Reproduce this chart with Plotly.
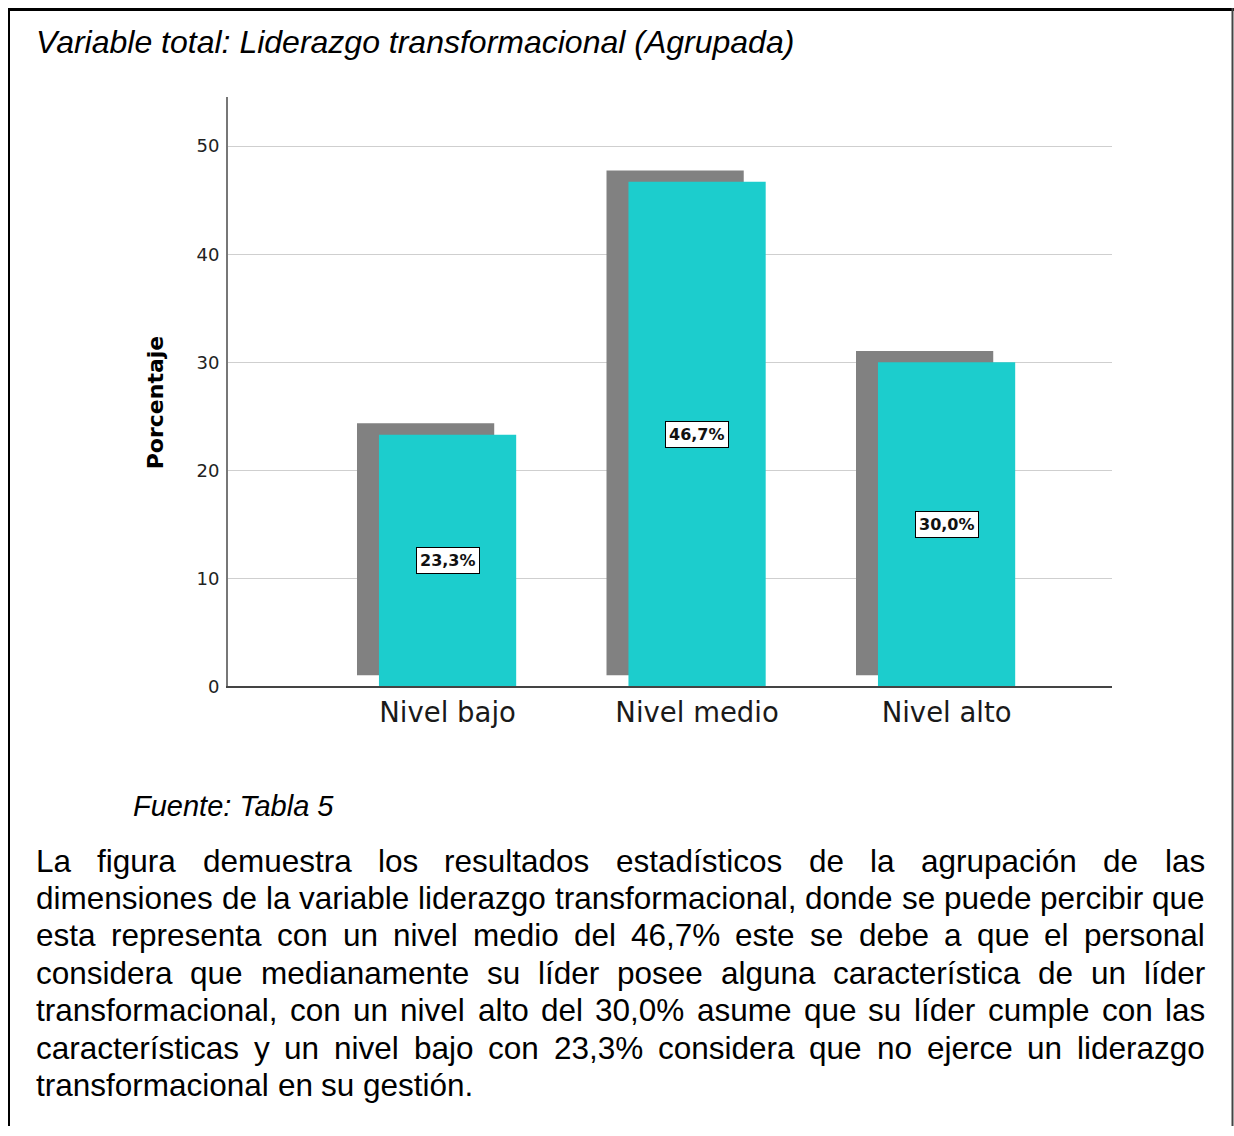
import plotly.graph_objects as go

# ---------------- data ----------------
categories = ["Nivel bajo", "Nivel medio", "Nivel alto"]
percentages = [23.3, 46.7, 30.0]
value_labels = ["23,3%", "46,7%", "30,0%"]
y_ticks = [0, 10, 20, 30, 40, 50]
y_axis_title = "Porcentaje"

title_text = "Variable total: Liderazgo transformacional (Agrupada)"
source_text = "Fuente: Tabla 5"
paragraph_lines = [
    "La figura demuestra los resultados estadísticos de la agrupación de las",
    "dimensiones de la variable liderazgo transformacional, donde se puede percibir que",
    "esta representa con un nivel medio del 46,7% este se debe a que el personal",
    "considera que medianamente su líder posee alguna característica de un líder",
    "transformacional, con un nivel alto del 30,0% asume que su líder cumple con las",
    "características y un nivel bajo con 23,3% considera que no ejerce un liderazgo",
    "transformacional en su gestión.",
]

# ---------------- styling ----------------
W, H = 1234, 1136
Y_FIT = 0.9905  # vertical fit of the captured page


def px(x):
    return x / W


def py(y):
    return max(0.0, 1 - (y / Y_FIT) / H)


CYAN = "#1CCDCD"
SHADOW = "#818181"
SHADOW_DX = -0.088
SHADOW_DY = 1.05
BAR_W = 0.55
TEXT_FONT = "Liberation Sans, Arial, sans-serif"
CHART_FONT = "DejaVu Sans, Verdana, sans-serif"

# Arial / Liberation Sans advance widths (per 1000 em)
ARIAL = {c: 556 for c in "abdeghnopqu0123456789áéóúL"}
ARIAL.update({"c": 500, "k": 500, "s": 500, "v": 500, "x": 500, "y": 500, "z": 500,
              "f": 278, "t": 278, "i": 222, "j": 222, "l": 222, "r": 333, "m": 833,
              "w": 722, "í": 278, ",": 278, ".": 278, "%": 889, " ": 278})


def text_w(s, size):
    return sum(ARIAL.get(c, 556) for c in s) / 1000.0 * size


x_pos = list(range(len(categories)))

fig = go.Figure()
# shadow bars
fig.add_trace(go.Bar(
    x=[i + SHADOW_DX for i in x_pos], y=percentages, base=SHADOW_DY,
    width=BAR_W, marker=dict(color=SHADOW, line=dict(width=0)),
    hoverinfo="skip", showlegend=False))
# main bars
fig.add_trace(go.Bar(
    x=x_pos, y=percentages, width=BAR_W,
    marker=dict(color=CYAN, line=dict(width=0)),
    showlegend=False))

annotations = []
# value labels
for i, v, lab in zip(x_pos, percentages, value_labels):
    annotations.append(dict(
        x=i, y=v / 2, xref="x", yref="y", text=lab, showarrow=False,
        font=dict(family=CHART_FONT, size=16, color="#111111", weight="bold"),
        bgcolor="white", bordercolor="black", borderwidth=1, borderpad=3))

# y-axis title
annotations.append(dict(
    x=px(155), y=py(402), xref="paper", yref="paper", text=y_axis_title,
    textangle=-90, showarrow=False, xanchor="center", yanchor="middle",
    font=dict(family=CHART_FONT, size=22, color="black", weight="bold")))

# title
annotations.append(dict(
    x=px(36), y=py(42), xref="paper", yref="paper", text=title_text,
    showarrow=False, xanchor="left", yanchor="middle", borderpad=0, borderwidth=0,
    font=dict(family=TEXT_FONT, size=32, color="black", style="italic")))

# source
annotations.append(dict(
    x=px(133), y=py(805), xref="paper", yref="paper", text=source_text,
    showarrow=False, xanchor="left", yanchor="middle", borderpad=0, borderwidth=0,
    font=dict(family=TEXT_FONT, size=29, color="black", style="italic")))

# justified paragraph
P_SIZE = 31.5
P_LEFT, P_RIGHT = 36, 1205
P_TOP_CENTER = 860
P_STEP = 37.4
for li, line in enumerate(paragraph_lines):
    yc = P_TOP_CENTER + li * P_STEP
    words = line.split(" ")
    last = li == len(paragraph_lines) - 1
    widths = [text_w(w, P_SIZE) for w in words]
    if last or len(words) == 1:
        gap = text_w(" ", P_SIZE)
    else:
        gap = (P_RIGHT - P_LEFT - sum(widths)) / (len(words) - 1)
    x = P_LEFT
    for w, wd in zip(words, widths):
        annotations.append(dict(
            x=px(x), y=py(yc), xref="paper", yref="paper", text=w,
            showarrow=False, xanchor="left", yanchor="middle",
            borderpad=0, borderwidth=0,
            font=dict(family=TEXT_FONT, size=P_SIZE, color="black")))
        x += wd + gap

shapes = [
    dict(type="line", xref="paper", yref="paper", x0=px(8), x1=px(1234),
         y0=py(9.5), y1=py(9.5), line=dict(color="black", width=3)),
    dict(type="line", xref="paper", yref="paper", x0=px(9), x1=px(9),
         y0=py(8), y1=0, line=dict(color="black", width=2)),
    dict(type="line", xref="paper", yref="paper", x0=px(1232.5), x1=px(1232.5),
         y0=py(8), y1=0, line=dict(color="#444444", width=2)),
]

fig.update_layout(
    width=W, height=H,
    margin=dict(l=0, r=0, t=0, b=0),
    paper_bgcolor="white", plot_bgcolor="white",
    barmode="overlay", showlegend=False,
    annotations=annotations, shapes=shapes,
    xaxis=dict(
        domain=[px(228), px(1112)], range=[-0.88, 2.663],
        tickvals=x_pos, ticktext=categories, showgrid=False, zeroline=False,
        showline=True, linecolor="#444444", linewidth=1.5, ticks="",
        tickfont=dict(family=CHART_FONT, size=27.5, color="#1a1a1a"),
        ticklabelstandoff=1, fixedrange=True),
    yaxis=dict(
        domain=[py(686), py(97)], range=[0, 54.54],
        tickvals=y_ticks, showgrid=True, gridcolor="#CFCFCF", gridwidth=1.2,
        zeroline=False, showline=True, linecolor="#777777", linewidth=2,
        ticks="", tickfont=dict(family=CHART_FONT, size=18, color="#222222"),
        ticklabelstandoff=3, fixedrange=True),
)

post = (
    "var s=document.createElement('style');"
    "s.textContent='html,body{margin:0;padding:0;overflow:hidden;"
    "width:1234px;height:1136px;}';"
    "document.head.appendChild(s);"
)
fig.write_html("out.html", config={"displayModeBar": False}, post_script=post)
